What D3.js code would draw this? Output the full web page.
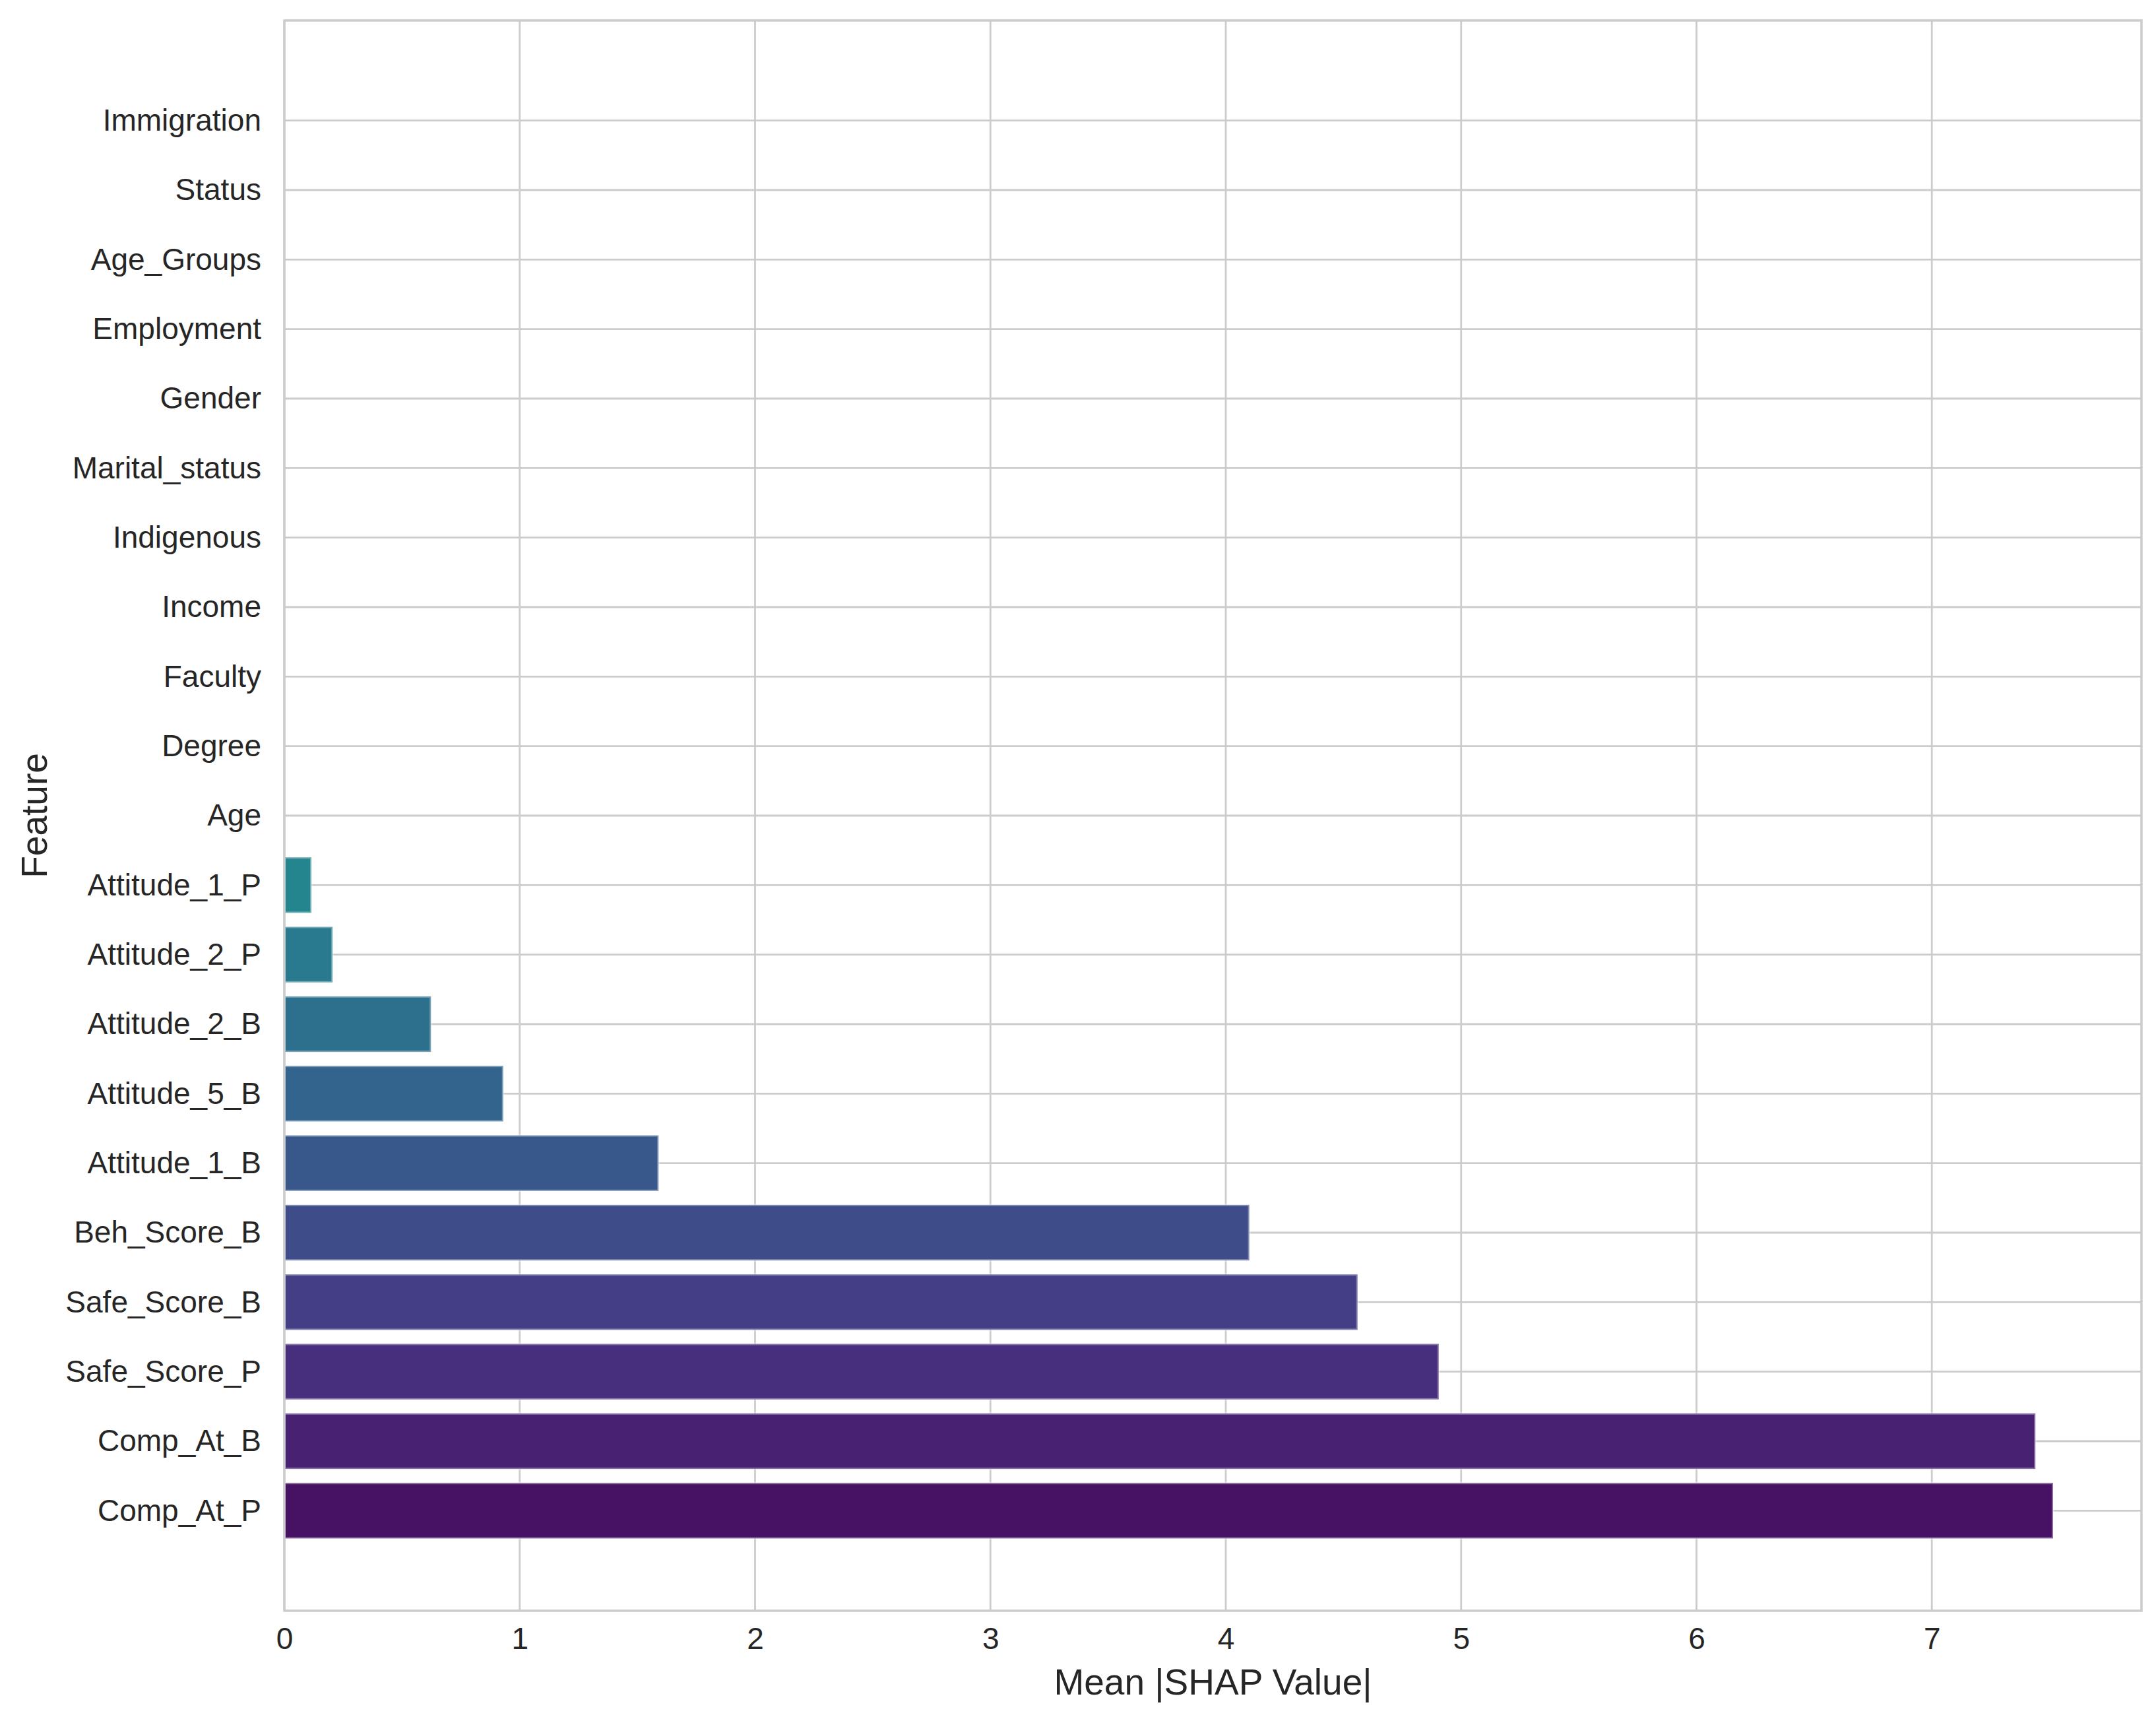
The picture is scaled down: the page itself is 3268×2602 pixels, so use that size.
<!DOCTYPE html>
<html lang="en">
<head>
<meta charset="utf-8">
<title>Mean |SHAP Value| by feature</title>
<script src="https://d3js.org/d3.v7.min.js"></script>
<style>
  body { margin: 0; background: #fff; }
  svg { display: block; }
  text { font-family: "Liberation Sans", Arial, sans-serif; fill: #262626; }
</style>
</head>
<body>
<script>
// features from bottom to top, as plotted
var features = ["Comp_At_P", "Comp_At_B", "Safe_Score_P", "Safe_Score_B", "Beh_Score_B",
  "Attitude_1_B", "Attitude_5_B", "Attitude_2_B", "Attitude_2_P", "Attitude_1_P",
  "Age", "Degree", "Faculty", "Income", "Indigenous", "Marital_status",
  "Gender", "Employment", "Age_Groups", "Status", "Immigration"];
// mean |shap| values
var shapValues = [7.515, 7.44, 4.905, 4.56, 4.10,
  1.59, 0.93, 0.623, 0.205, 0.115,
  0, 0, 0, 0, 0, 0, 0, 0, 0, 0, 0];
var xTicks = [0, 1, 2, 3, 4, 5, 6, 7];

var W = 3268, H = 2602;
var mLeft = 431, mRight = 3246, mTop = 31, mBottom = 2441;
var n = features.length;
var barH = 0.8;

var svg = d3.select("body").append("svg")
  .attr("width", W)
  .attr("height", H);

// x axis with 5% margin on the right, like matplotlib
var xMax = d3.max(shapValues) * 1.05;
var x = d3.scaleLinear().domain([0, xMax]).range([mLeft, mRight]);

// y as index with matplotlib-style margins
var yPad = (n - 1 + barH) * 0.05 + barH / 2;
var y = d3.scaleLinear().domain([-yPad, n - 1 + yPad]).range([mBottom, mTop]);
var step = Math.abs(y(1) - y(0));

// palette: viridis sampled like seaborn
var colors = features.map(function (d, i) {
  return d3.interpolateViridis((i + 1) / (n + 1));
});

// grid
var grid = svg.append("g");
grid.selectAll("line.vx")
  .data(xTicks)
  .enter().append("line")
  .attr("x1", function (d) { return x(d); })
  .attr("x2", function (d) { return x(d); })
  .attr("y1", mTop).attr("y2", mBottom)
  .attr("stroke", "#cccccc").attr("stroke-width", 2.8);
grid.selectAll("line.hy")
  .data(features)
  .enter().append("line")
  .attr("x1", mLeft).attr("x2", mRight)
  .attr("y1", function (d, i) { return y(i); })
  .attr("y2", function (d, i) { return y(i); })
  .attr("stroke", "#cccccc").attr("stroke-width", 2.8);

// bars
svg.append("g").selectAll("rect")
  .data(shapValues)
  .enter().append("rect")
  .attr("x", x(0))
  .attr("y", function (d, i) { return y(i) - step * barH / 2; })
  .attr("width", function (d) { return x(d) - x(0); })
  .attr("height", step * barH)
  .attr("fill", function (d, i) { return colors[i]; })
  .attr("stroke", "#ffffff")
  .attr("stroke-opacity", function (d) { return d > 0 ? 0.35 : 0; })
  .attr("stroke-width", 4);

// frame
svg.append("rect")
  .attr("x", mLeft).attr("y", mTop)
  .attr("width", mRight - mLeft).attr("height", mBottom - mTop)
  .attr("fill", "none")
  .attr("stroke", "#cccccc")
  .attr("stroke-width", 3.5);

// x axis (no tick marks)
var xAxis = d3.axisBottom(x)
  .tickValues(xTicks)
  .tickSize(0)
  .tickPadding(25)
  .tickFormat(d3.format("d"));
var gx = svg.append("g")
  .attr("transform", "translate(0," + mBottom + ")")
  .call(xAxis);
gx.select(".domain").remove();
gx.selectAll("text")
  .style("font-size", "46px")
  .style("fill", "#262626");

// y axis
var yAxis = d3.axisLeft(y)
  .tickValues(d3.range(n))
  .tickSize(0)
  .tickPadding(35)
  .tickFormat(function (i) { return features[i]; });
var gy = svg.append("g")
  .attr("transform", "translate(" + mLeft + ",0)")
  .call(yAxis);
gy.select(".domain").remove();
gy.selectAll("text")
  .style("font-size", "46px")
  .style("fill", "#262626");

// axis titles
svg.append("text")
  .attr("x", (mLeft + mRight) / 2)
  .attr("y", 2568)
  .attr("text-anchor", "middle")
  .style("font-size", "55px")
  .text("Mean |SHAP Value|");

svg.append("text")
  .attr("transform", "translate(71," + (mTop + mBottom) / 2 + ") rotate(-90)")
  .attr("text-anchor", "middle")
  .style("font-size", "55px")
  .text("Feature");
</script>
</body>
</html>
